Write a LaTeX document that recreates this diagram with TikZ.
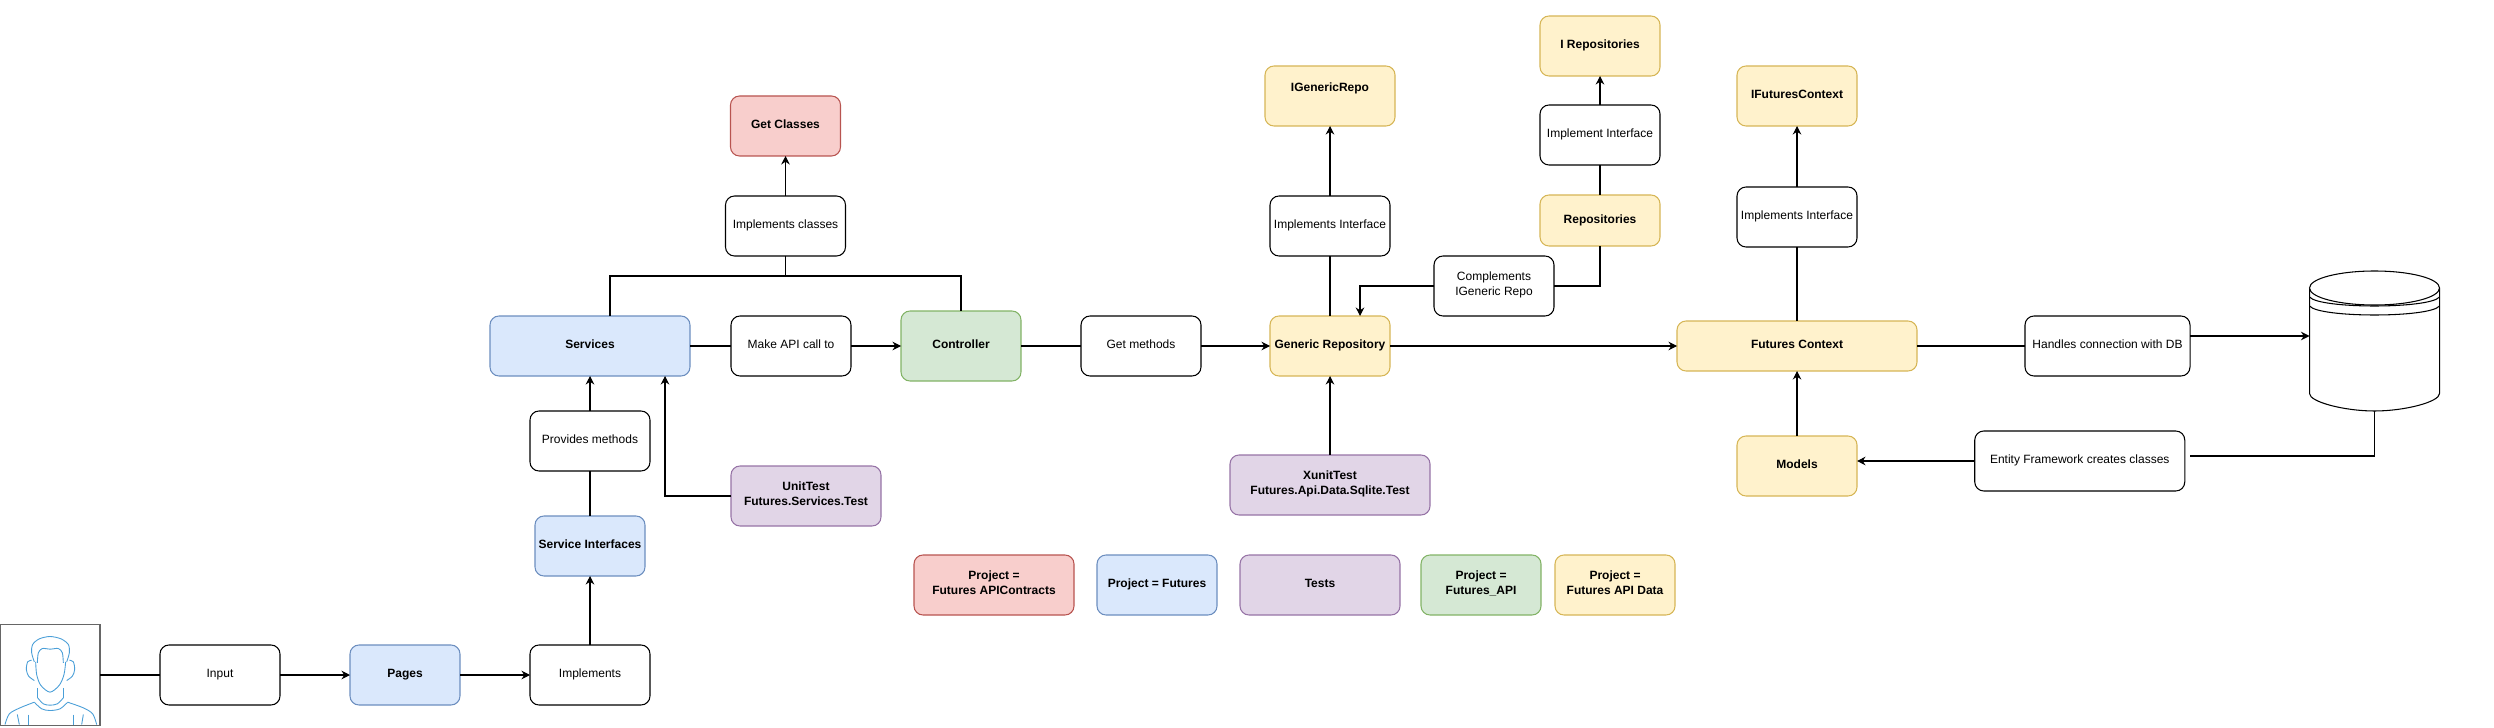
\documentclass[tikz,border=0pt]{standalone}
\usepackage{fontspec}
\setmainfont{Liberation Sans}
\usetikzlibrary{arrows.meta,calc,positioning}
\newcommand{\boxfont}{\fontsize{6.83pt}{8.5pt}\selectfont}
\definecolor{iconblue}{HTML}{4A9FD8}
\tikzstyle{box}=[rectangle,draw=black,fill=white,rounded corners=0.18cm,minimum height=1.2cm,inner sep=0pt,outer sep=0pt,align=center,font=\boxfont,text=black,execute at begin node=\strut,execute at end node=\strut]
\tikzstyle{step box}=[box,minimum width=2.4cm]
\tikzstyle{project box}=[box,font=\boxfont\bfseries]
\tikzstyle{blue box}=[project box,fill={rgb,255:red,218;green,232;blue,252},draw={rgb,255:red,108;green,142;blue,191}]
\tikzstyle{green box}=[project box,fill={rgb,255:red,213;green,232;blue,212},draw={rgb,255:red,130;green,179;blue,102}]
\tikzstyle{red box}=[project box,fill={rgb,255:red,248;green,206;blue,204},draw={rgb,255:red,184;green,84;blue,80}]
\tikzstyle{yellow box}=[project box,minimum width=2.4cm,fill={rgb,255:red,255;green,242;blue,204},draw={rgb,255:red,214;green,182;blue,86}]
\tikzstyle{purple box}=[project box,fill={rgb,255:red,225;green,213;blue,231},draw={rgb,255:red,150;green,115;blue,166}]

\begin{document}
\begin{tikzpicture}[->,>={Stealth[length=1.7mm,width=1.7mm]},line width=0.6pt]
  \useasboundingbox (0,0) rectangle (49.88,14.54);

  % bottom row
  \node[rectangle,draw=black!60,fill=white,minimum width=2cm,minimum height=2.02cm,inner sep=0pt,outer sep=0pt] (person) at (1,1.04) {};
  \node[step box, right = 1.2cm of person] (input) {Input};
  \node[blue box, minimum width=2.2cm, right = 1.4cm of input] (pages) {Pages};
  \node[step box, right = 1.4cm of pages] (implements) {Implements};

  % services column
  \node[blue box, minimum width=2.2cm, above = 1.38cm of implements] (serviceInt) {Service Interfaces};
  \node[step box, above = 0.9cm of serviceInt] (provides) {Provides methods};
  \node[blue box, minimum width=4cm, above = 0.7cm of provides] (services) {Services};
  \node[purple box, minimum width=3cm, below right = 1.8cm and 0.82cm of services] (unitTest) {UnitTest\\Futures.Services.Test};

  % main row
  \node[step box, right = 0.82cm of services] (apiCall) {Make API call to};
  \node[green box, minimum width=2.4cm, minimum height=1.4cm, right = 1cm of apiCall] (controller) {Controller};
  \node[step box, right = 1.2cm of controller] (getMethods) {Get methods};
  \node[yellow box, right = 1.38cm of getMethods] (generic) {Generic Repository};
  \node[yellow box, minimum width=4.8cm, minimum height=1cm, right = 5.74cm of generic] (context) {Futures Context};
  \node[step box, minimum width=3.3cm, right = 2.16cm of context] (handles) {Handles connection with DB};
  \node[minimum width=2.6cm,minimum height=2.8cm,inner sep=0pt,outer sep=0pt, right = 2.39cm of handles, yshift=0.1cm] (db) {};

  % classes above services
  \coordinate (classesBase) at ($(services.north)!.5!(controller.north |- services.north)+(0.2,1.2)$);
  \node[step box, above = 0cm of classesBase] (implClasses) {Implements classes};
  \node[red box, minimum width=2.2cm, above = 0.8cm of implClasses] (getClasses) {Get Classes};

  % repositories
  \node[step box, above = 1.2cm of generic] (implInt) {Implements Interface};
  \node[yellow box, minimum width=2.6cm, text depth=0.39cm, above = 1.4cm of implInt] (iGeneric) {IGenericRepo};
  \node[step box, above right = 0cm and 0.88cm of generic] (complements) {Complements\\IGeneric Repo};
  \node[yellow box, minimum height=1.02cm, above right = 0.2cm and -0.28cm of complements] (repositories) {Repositories};
  \node[step box, above = 0.6cm of repositories] (implIface) {Implement Interface};
  \node[yellow box, above = 0.58cm of implIface] (iRepos) {I Repositories};
  \node[purple box, minimum width=4cm, below = 1.58cm of generic] (xunit) {XunitTest\\Futures.Api.Data.Sqlite.Test};

  % context column
  \node[step box, above = 1.48cm of context] (implCtx) {Implements Interface};
  \node[yellow box, above = 1.22cm of implCtx] (iContext) {IFuturesContext};
  \node[yellow box, below = 1.3cm of context] (models) {Models};
  \node[step box, minimum width=4.2cm, below = 1.1cm of handles, xshift=-0.555cm] (entity) {Entity Framework creates classes};
  \coordinate (entityEnd) at ($(entity.east)+(0.1,0.1)$);

  % legend
  \node[red box, minimum width=3.2cm, below right = 0.58cm and 0.66cm of unitTest] (legendContracts) {Project =\\Futures APIContracts};
  \node[blue box, minimum width=2.4cm, right = 0.46cm of legendContracts] (legendFutures) {Project = Futures};
  \node[purple box, minimum width=3.2cm, right = 0.46cm of legendFutures] (legendTests) {Tests};
  \node[green box, minimum width=2.4cm, right = 0.42cm of legendTests] (legendApi) {Project =\\Futures\_API};
  \node[yellow box, right = 0.28cm of legendApi] (legendData) {Project =\\Futures API Data};

  \path (person) edge[-] (input);
  \path (input) edge (pages);
  \path (pages) edge (implements);
  \path (implements) edge (serviceInt);
  \path (serviceInt) edge[-] (provides);
  \path (provides) edge (services);
  \draw (unitTest.west) -| ($(services.south)+(1.5,0)$);

  \path (services) edge[-] (apiCall);
  \path (apiCall) edge (controller);
  \path (controller) edge[-] (getMethods);
  \path (getMethods) edge (generic);
  \path (generic) edge (context);
  \path (context) edge[-] (handles);
  \draw ($(handles.east)+(0,0.2)$) -- (db.west |- {$(handles.east)+(0,0.2)$});

  \coordinate (branch) at ($(implClasses.south)+(0,-0.4)$);
  \draw[-] (implClasses.south) -- (branch);
  \draw[-] ($(services.north)+(0.4,0)$) |- (branch) -| (controller.north);
  \path (implClasses) edge (getClasses);

  \path (generic) edge[-] (implInt);
  \path (implInt) edge (iGeneric);
  \draw[-] (repositories.south) |- (complements.east);
  \draw (complements.west) -| ($(generic.north)+(0.6,0)$);
  \path (repositories) edge[-] (implIface);
  \path (implIface) edge (iRepos);
  \path (xunit) edge (generic);

  \path (context) edge[-] (implCtx);
  \path (implCtx) edge (iContext);
  \path (models) edge (context);
  \draw (entity.west) -- (models.east |- entity.west);
  \draw[-] (db.south) |- (entityEnd);

  % database cylinder
  \begin{scope}[-,shift={(db.center)},x=1cm,y=1cm]
    \draw[fill=white] (-1.3,1.05) -- (-1.3,-1.05) .. controls (-1.3,-1.22) and (-0.6,-1.4) .. (0,-1.4) .. controls (0.6,-1.4) and (1.3,-1.22) .. (1.3,-1.05) -- (1.3,1.05);
    \draw[fill=white] (0,1.06) ellipse (1.3cm and 0.34cm);
    \draw (-1.3,0.88) .. controls (-1.1,0.64) and (1.1,0.64) .. (1.3,0.88);
    \draw (-1.3,0.7) .. controls (-1.1,0.46) and (1.1,0.46) .. (1.3,0.7);
  \end{scope}

  % person icon, drawn on a 3x grid from the top left of the frame
  \begin{scope}[-,shift={(person.north west)},x=0.00667cm,y=-0.00667cm,draw=iconblue,line width=0.5pt]
    \draw plot[smooth] coordinates {(103,112) (95,85) (98,60) (118,43) (150,36) (183,43) (205,60) (208,85) (200,112)};
    \draw plot[smooth] coordinates {(112,115) (115,85) (127,72) (150,74) (175,72) (187,85) (190,115)};
    \draw plot[smooth] coordinates {(107,112) (110,150) (122,182) (150,203) (178,182) (192,150) (197,112)};
    \draw plot[smooth] coordinates {(95,107) (83,112) (79,135) (86,155) (103,168)};
    \draw plot[smooth] coordinates {(208,107) (220,112) (224,135) (217,155) (200,168)};
    \draw (113,190) -- (113,220);
    \draw (190,190) -- (190,220);
    \draw plot[smooth] coordinates {(113,220) (130,238) (150,242) (172,238) (190,220)};
    \draw plot[smooth] coordinates {(103,233) (125,253) (150,258) (180,253) (203,233)};
    \draw plot[smooth] coordinates {(103,233) (60,250) (28,268) (15,300)};
    \draw plot[smooth] coordinates {(203,233) (250,250) (278,268) (290,300)};
    \draw (52,270) -- (58,300);
    \draw (85,270) -- (85,300);
    \draw (220,270) -- (220,300);
    \draw (250,270) -- (245,300);
  \end{scope}
\end{tikzpicture}
\end{document}
